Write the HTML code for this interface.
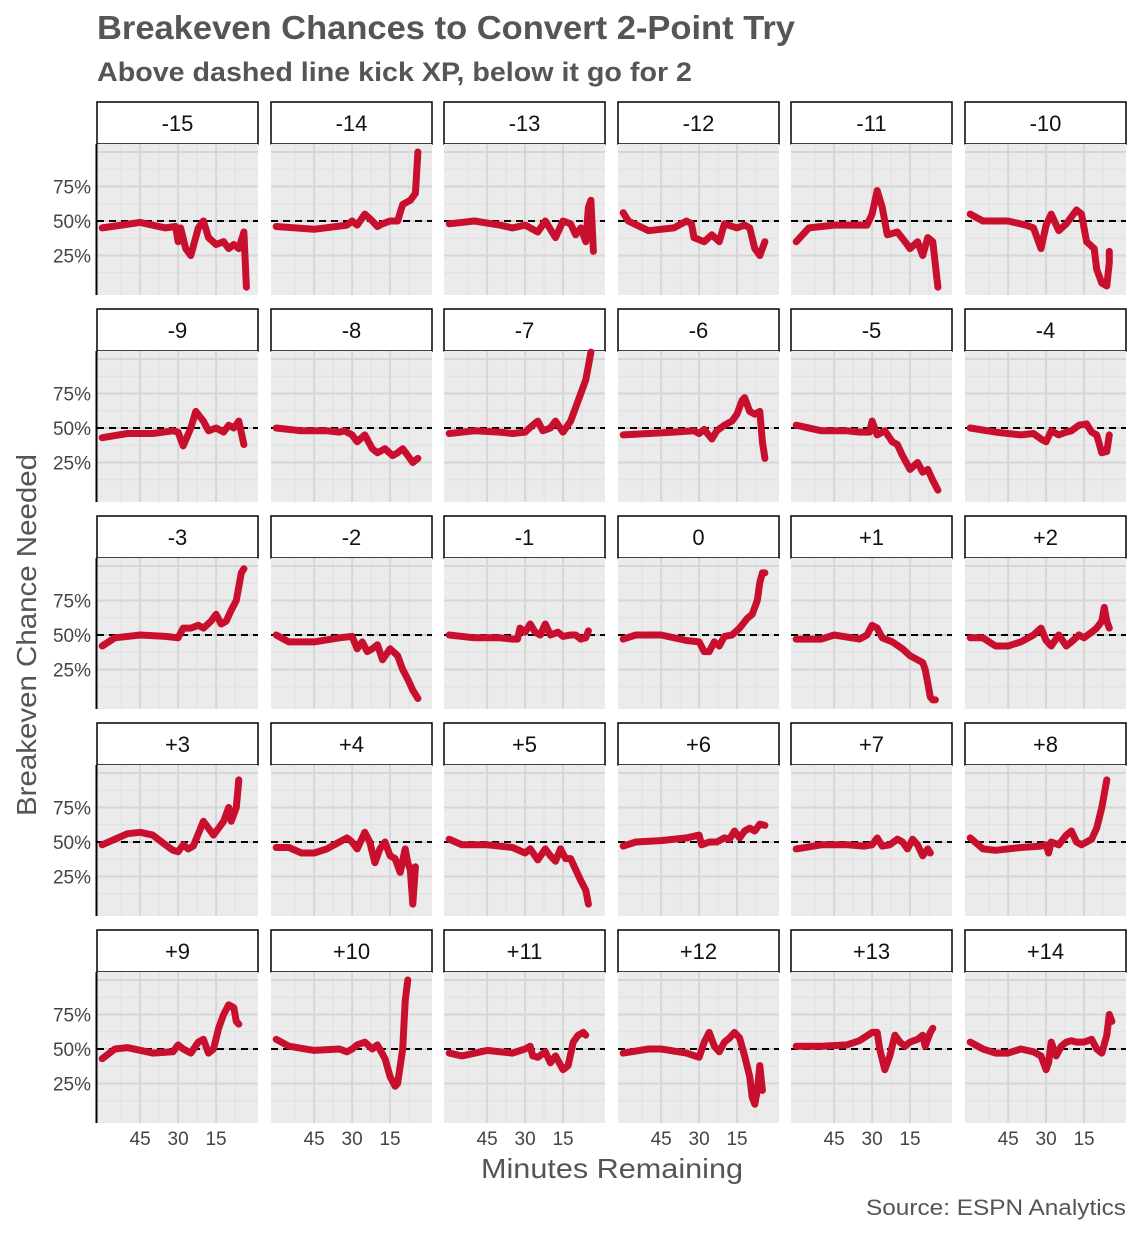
<!DOCTYPE html>
<html><head><meta charset="utf-8"><style>
html,body{margin:0;padding:0;background:#fff;}
svg{display:block;font-family:"Liberation Sans",sans-serif;}
</style></head><body>
<svg id="s" width="1140" height="1233" viewBox="0 0 1140 1233" xmlns="http://www.w3.org/2000/svg">
<rect width="1140" height="1233" fill="#fff"/>
<text x="97" y="39" font-size="33" fill="#555" font-weight="bold" textLength="698" lengthAdjust="spacingAndGlyphs">Breakeven Chances to Convert 2-Point Try</text>
<text x="97" y="81" font-size="27" fill="#555" font-weight="bold" textLength="595" lengthAdjust="spacingAndGlyphs">Above dashed line kick XP, below it go for 2</text>
<text transform="translate(36,635) rotate(-90)" text-anchor="middle" font-size="28" fill="#555" textLength="362" lengthAdjust="spacingAndGlyphs">Breakeven Chance Needed</text>
<text x="612" y="1178" text-anchor="middle" font-size="28" fill="#555" textLength="262" lengthAdjust="spacingAndGlyphs">Minutes Remaining</text>
<text x="1126" y="1215" text-anchor="end" font-size="22" fill="#555" textLength="260" lengthAdjust="spacingAndGlyphs">Source: ESPN Analytics</text>
<g id="g"></g>
</svg>
<script>
var D={
"-15":"60:45,45:49,35:45,31:46,30:35,29:45,27:30,25:25,22:45,20:50,18:38,15:33,12:35,10:30,8:33,6:30,4:42,3:2",
"-14":"60:46,45:44,32:47,30:50,28:47,25:55,22:50,20:46,18:48,15:50,12:50,10:62,7:65,5:70,4:100",
"-13":"60:48,50:50,40:47,35:45,30:47,25:42,22:50,20:44,18:38,15:50,12:48,10:40,8:45,6:35,5:60,4:65,3:28",
"-12":"60:56,58:50,50:43,40:45,35:50,33:48,32:38,28:35,25:40,22:35,20:48,15:45,12:47,10:45,8:30,6:25,4:35",
"-11":"60:35,55:45,45:47,35:47,32:47,30:55,28:72,26:60,24:40,20:42,17:35,15:30,12:35,10:25,8:38,6:35,4:2",
"-10":"60:55,55:50,45:50,38:47,35:45,32:30,30:47,28:55,25:43,22:48,20:53,18:58,16:55,14:35,11:30,10:15,8:5,6:3,5:20,5:28",
"-9":"60:43,50:46,40:46,32:48,30:47,28:37,25:50,23:62,20:55,18:48,15:50,12:47,10:52,8:50,6:55,4:38",
"-8":"60:50,50:48,40:48,35:47,33:48,30:45,28:40,25:45,22:35,20:32,17:35,14:30,12:32,10:35,8:30,6:25,4:28",
"-7":"60:46,50:48,40:47,35:46,30:47,27:52,25:55,23:48,20:50,18:55,15:47,12:55,10:65,8:75,6:85,5:95,4:105",
"-6":"60:45,50:46,40:47,32:48,30:46,28:49,25:42,23:48,20:52,17:55,15:60,13:70,12:72,10:62,8:60,6:62,5:40,4:28",
"-5":"60:52,50:48,40:48,35:47,31:47,30:55,28:45,25:48,22:40,20:38,18:30,15:20,12:25,10:18,8:20,6:12,4:5",
"-4":"60:50,50:47,40:45,35:46,32:42,30:40,28:48,25:45,22:47,20:48,17:52,14:53,12:47,10:45,8:32,6:33,5:45",
"-3":"60:42,55:48,45:50,35:49,30:48,28:55,25:55,22:57,20:55,17:60,15:65,13:58,11:60,9:68,7:75,6:85,5:95,4:98",
"-2":"60:50,55:45,45:45,35:48,30:49,28:40,26:45,24:38,22:40,20:43,18:32,15:40,12:35,10:25,8:18,6:10,4:4",
"-1":"60:50,50:48,40:48,35:47,33:47,32:55,30:52,28:58,26:52,24:50,22:58,20:50,17:52,15:49,12:50,10:50,8:47,6:48,5:53",
"0":"60:47,55:50,45:50,35:46,30:45,28:38,26:38,24:45,22:42,20:49,17:50,14:55,11:62,9:65,7:75,6:88,5:95,4:95",
"+1":"60:47,50:47,45:50,35:47,32:50,30:57,28:55,26:48,22:45,18:40,15:35,12:32,10:30,9:25,8:15,7:5,6:3,5:3",
"+2":"60:48,55:48,50:42,45:42,40:45,35:50,32:55,30:46,28:42,25:50,22:42,20:45,17:50,15:48,12:52,10:55,8:60,7:70,6:60,5:55",
"+3":"60:48,55:52,50:56,45:57,40:55,35:48,32:44,30:43,28:48,26:45,24:47,20:65,18:60,16:55,14:60,12:65,10:75,9:65,8:70,7:75,6:95",
"+4":"60:46,55:46,50:42,45:42,40:45,35:50,32:53,30:50,28:45,25:57,23:50,21:35,19:45,17:50,15:40,13:38,11:28,9:45,8:35,7:30,6:5,5:32",
"+5":"60:52,55:48,45:48,35:46,30:42,28:45,25:37,22:45,20:40,18:36,16:45,14:38,12:38,10:30,8:22,6:15,5:5",
"+6":"60:47,55:50,45:51,35:53,30:55,29:48,26:50,23:50,20:53,18:52,16:58,14:53,12:58,10:60,8:58,6:63,4:62",
"+7":"60:45,50:48,40:48,33:47,30:48,28:53,26:47,23:48,20:52,18:50,16:45,14:52,12:48,10:40,8:45,7:42",
"+8":"60:53,55:45,50:44,40:46,32:47,30:48,29:42,28:50,25:48,22:55,20:58,18:50,16:48,14:50,12:52,10:60,8:75,7:85,6:95",
"+9":"60:43,55:50,50:51,40:47,32:48,30:53,28:50,25:47,22:55,20:57,18:47,16:50,14:65,12:75,10:82,8:80,7:70,6:68",
"+10":"60:57,55:52,45:49,35:50,32:48,30:50,28:53,25:55,22:50,20:53,17:43,15:30,13:23,12:25,10:50,9:85,8:100",
"+11":"60:47,55:45,45:49,35:47,30:50,28:52,27:45,25:44,22:48,20:40,18:45,15:35,13:38,11:55,9:60,7:62,6:60",
"+12":"60:47,50:50,45:50,35:47,30:44,28:55,26:62,24:52,22:48,20:55,18:58,16:62,14:58,12:45,10:30,9:15,8:10,7:20,6:38,5:20",
"+13":"60:52,50:52,40:53,35:56,30:62,28:62,27:50,25:35,23:45,21:60,19:55,17:52,15:55,12:57,10:60,9:52,7:62,6:65",
"+14":"60:55,55:50,50:47,45:47,40:50,35:48,32:45,30:35,29:40,28:55,26:45,24:52,22:55,20:56,18:55,15:55,12:57,10:50,8:47,6:60,5:75,4:70"};
var keys=["-15","-14","-13","-12","-11","-10","-9","-8","-7","-6","-5","-4","-3","-2","-1","0","+1","+2","+3","+4","+5","+6","+7","+8","+9","+10","+11","+12","+13","+14"];
var L=[97,271,444,618,791,965],T=[144,351,558,765,972],W=161,H=151;
var h='';
keys.forEach(function(k,i){
 var c=i%6,r=Math.floor(i/6),x0=L[c],y0=T[r];
 var X=function(m){return x0+157-m*2.53;},Y=function(p){return y0+146-p*1.38;};
 h+='<rect x="'+x0+'" y="'+(y0-42)+'" width="'+W+'" height="42" fill="#fff" stroke="#000" stroke-width="1.5"/>';
 h+='<text x="'+(x0+W/2)+'" y="'+(y0-13)+'" text-anchor="middle" font-size="22" fill="#111">'+k+'</text>';
 h+='<rect x="'+x0+'" y="'+y0+'" width="'+W+'" height="'+H+'" fill="#ebebeb"/>';
 [52.5,37.5,22.5,7.5].forEach(function(m){h+='<line x1="'+X(m)+'" x2="'+X(m)+'" y1="'+y0+'" y2="'+(y0+H)+'" stroke="#e0e0e0" stroke-width="1"/>';});
 [12.5,37.5,62.5,87.5].forEach(function(p){h+='<line x1="'+x0+'" x2="'+(x0+W)+'" y1="'+Y(p)+'" y2="'+Y(p)+'" stroke="#e0e0e0" stroke-width="1"/>';});
 [45,30,15].forEach(function(m){h+='<line x1="'+X(m)+'" x2="'+X(m)+'" y1="'+y0+'" y2="'+(y0+H)+'" stroke="#d6d6d6" stroke-width="2"/>';});
 [25,50,75,100].forEach(function(p){h+='<line x1="'+x0+'" x2="'+(x0+W)+'" y1="'+Y(p)+'" y2="'+Y(p)+'" stroke="#d6d6d6" stroke-width="2"/>';});
 h+='<line x1="'+x0+'" x2="'+(x0+W)+'" y1="'+Y(50)+'" y2="'+Y(50)+'" stroke="#000" stroke-width="2" stroke-dasharray="7,5"/>';
 var pts=D[k].split(',').map(function(s){var a=s.split(':');return X(+a[0]).toFixed(1)+','+Y(+a[1]).toFixed(1);}).join(' ');
 h+='<polyline points="'+pts+'" fill="none" stroke="#c8102e" stroke-width="7" stroke-linejoin="round" stroke-linecap="round"/>';
 if(c==0){
  h+='<line x1="'+(x0-0.5)+'" x2="'+(x0-0.5)+'" y1="'+y0+'" y2="'+(y0+H)+'" stroke="#000" stroke-width="2"/>';
  [[75,'75%'],[50,'50%'],[25,'25%']].forEach(function(a){h+='<text x="'+(x0-6)+'" y="'+(Y(a[0])+7)+'" text-anchor="end" font-size="19" fill="#444">'+a[1]+'</text>';});
 }
 if(r==4){
  [45,30,15].forEach(function(m){h+='<text x="'+X(m)+'" y="'+(y0+H+22)+'" text-anchor="middle" font-size="19" fill="#444">'+m+'</text>';});
 }
});
document.getElementById('g').innerHTML=h;
</script>
</body></html>
